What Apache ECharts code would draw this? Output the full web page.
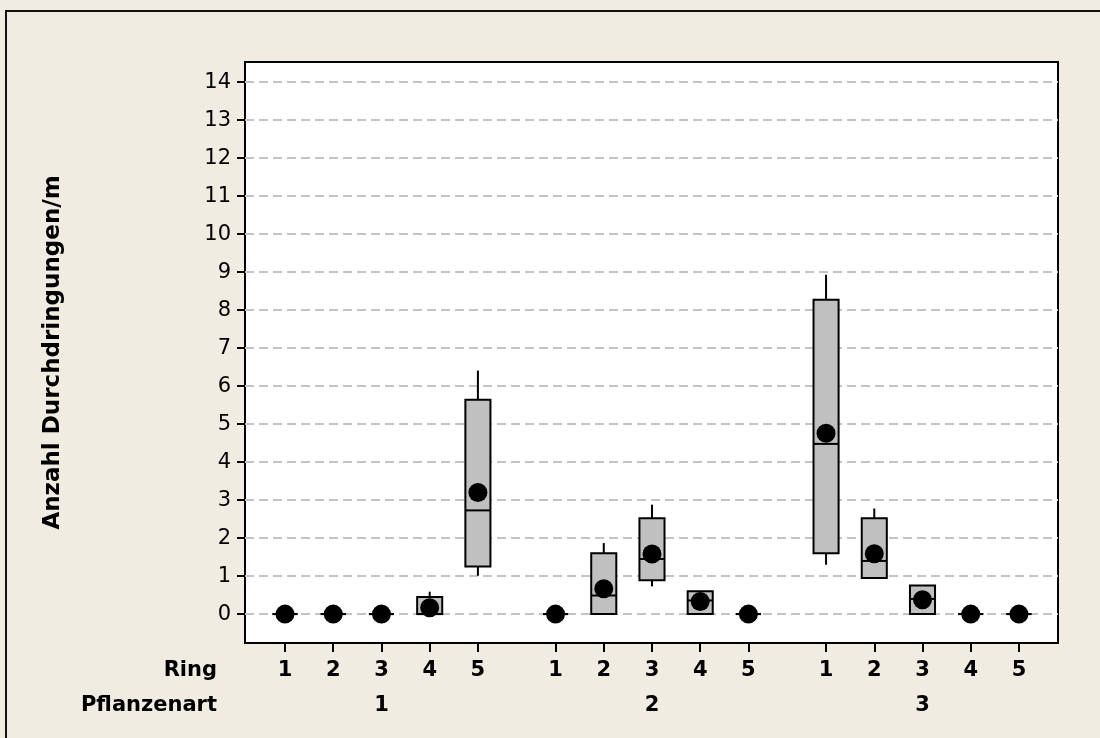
<!DOCTYPE html>
<html>
<head>
<meta charset="utf-8">
<title>Anzahl Durchdringungen/m</title>
<script src="https://cdn.jsdelivr.net/npm/echarts@6/dist/echarts.min.js"></script>
<style>
  html, body { margin: 0; padding: 0; background: #F0ECE2; }
  #chart { width: 1100px; height: 738px; }
</style>
</head>
<body>
<div id="chart"></div>
<script>
// Groups (Pflanzenart) and rings inside each group
const plantTypes = ['1', '2', '3'];
const ringLabels = ['1', '2', '3', '4', '5'];

// Box statistics, ordered Pflanzenart 1 (Ring 1..5), 2 (Ring 1..5), 3 (Ring 1..5)
const whiskerLow  = [0, 0, 0, 0,    1.01, 0, 0,    0.73, 0,    0, 1.30, 0.93, 0,    0, 0];
const quartile1   = [0, 0, 0, 0,    1.25, 0, 0,    0.89, 0,    0, 1.60, 0.95, 0,    0, 0];
const medians     = [0, 0, 0, 0,    2.73, 0, 0.49, 1.45, 0.36, 0, 4.48, 1.40, 0.40, 0, 0];
const quartile3   = [0, 0, 0, 0.45, 5.64, 0, 1.60, 2.52, 0.60, 0, 8.27, 2.52, 0.75, 0, 0];
const whiskerHigh = [0, 0, 0, 0.59, 6.41, 0, 1.87, 2.88, 0.60, 0, 8.93, 2.78, 0.75, 0, 0];
const means       = [0, 0, 0, 0.17, 3.20, 0, 0.67, 1.58, 0.33, 0, 4.76, 1.59, 0.38, 0, 0];

const yTicks = [0, 1, 2, 3, 4, 5, 6, 7, 8, 9, 10, 11, 12, 13, 14];

// Horizontal layout: rings are one unit apart, groups separated by an extra gap
const GROUP_STRIDE = ringLabels.length + 0.61;
const BOX_WIDTH = 0.52;

const positions = [];
const posLabel = {};
plantTypes.forEach((p, g) => {
  ringLabels.forEach((r, i) => {
    const x = +(g * GROUP_STRIDE + i + 1).toFixed(4);
    positions.push(x);
    posLabel[x] = r;
  });
});
const groupCenters = plantTypes.map((p, g) => +(g * GROUP_STRIDE + 3).toFixed(4));
const groupLabel = {};
groupCenters.forEach((x, g) => { groupLabel[x] = plantTypes[g]; });

const boxData = positions.map((x, i) =>
  [x, whiskerLow[i], quartile1[i], medians[i], quartile3[i], whiskerHigh[i]]);
const meanData = positions.map((x, i) => [x, means[i]]);

const FONT = 'DejaVu Sans';
const chart = echarts.init(document.getElementById('chart'));

function renderBox(params, api) {
  const x = api.value(0);
  const lo = api.coord([x, api.value(1)]);
  const q1 = api.coord([x, api.value(2)]);
  const md = api.coord([x, api.value(3)]);
  const q3 = api.coord([x, api.value(4)]);
  const hi = api.coord([x, api.value(5)]);
  const w = api.size([BOX_WIDTH, 0])[0];
  const left = q1[0] - w / 2;
  const line = { stroke: '#000', lineWidth: 2 };
  const children = [];
  if (hi[1] < q3[1]) {
    children.push({ type: 'line', shape: { x1: hi[0], y1: hi[1], x2: q3[0], y2: q3[1] }, style: line });
  }
  if (lo[1] > q1[1]) {
    children.push({ type: 'line', shape: { x1: lo[0], y1: lo[1], x2: q1[0], y2: q1[1] }, style: line });
  }
  children.push({
    type: 'rect',
    shape: { x: left, y: q3[1], width: w, height: q1[1] - q3[1] },
    style: { fill: '#C0C0C0', stroke: '#000', lineWidth: 2 }
  });
  children.push({ type: 'line', shape: { x1: left, y1: md[1], x2: left + w, y2: md[1] }, style: line });
  return { type: 'group', children: children };
}

const option = {
  backgroundColor: '#F0ECE2',
  animation: false,
  textStyle: { fontFamily: FONT },
  grid: {
    left: 245, right: 42, top: 62, bottom: 95,
    show: true, backgroundColor: '#FFFFFF', borderColor: '#000', borderWidth: 2
  },
  xAxis: [
    {
      type: 'value',
      position: 'bottom',
      min: 0.17, max: 17.03,
      axisLine: { show: false, onZero: false },
      axisTick: { show: true, inside: false, length: 9, lineStyle: { color: '#000', width: 2 }, customValues: positions },
      axisLabel: {
        customValues: positions, margin: 17,
        color: '#000', fontFamily: FONT, fontWeight: 'bold', fontSize: 21,
        formatter: v => posLabel[+(+v).toFixed(4)] || ''
      },
      splitLine: { show: false }
    },
    {
      type: 'value',
      position: 'bottom',
      offset: 35,
      min: 0.17, max: 17.03,
      axisLine: { show: false, onZero: false },
      axisTick: { show: false, customValues: groupCenters },
      axisLabel: {
        customValues: groupCenters, margin: 17,
        color: '#000', fontFamily: FONT, fontWeight: 'bold', fontSize: 21,
        formatter: v => groupLabel[+(+v).toFixed(4)] || ''
      },
      splitLine: { show: false }
    }
  ],
  yAxis: {
    type: 'value',
    min: -0.76, max: 14.53,
    name: 'Anzahl Durchdringungen/m',
    nameLocation: 'middle',
    nameGap: 180,
    nameTextStyle: { color: '#000', fontFamily: FONT, fontWeight: 'bold', fontSize: 23 },
    axisLine: { show: false, onZero: false },
    axisTick: { show: true, inside: false, length: 8, lineStyle: { color: '#000', width: 2 }, customValues: yTicks },
    axisLabel: { customValues: yTicks, margin: 14, color: '#000', fontFamily: FONT, fontSize: 21 },
    splitLine: { show: true, lineStyle: { color: '#C4C4C4', width: 2, type: [9, 5] } }
  },
  graphic: [
    {
      type: 'rect', z: 100, silent: true,
      shape: { x: 6, y: 11, width: 1200, height: 800 },
      style: { fill: 'none', stroke: '#111', lineWidth: 2 }
    },
    {
      type: 'text', right: 883, top: 660, z: 100,
      style: { text: 'Ring', font: 'bold 21px "DejaVu Sans"', fill: '#000' }
    },
    {
      type: 'text', right: 883, top: 695, z: 100,
      style: { text: 'Pflanzenart', font: 'bold 21px "DejaVu Sans"', fill: '#000' }
    }
  ],
  series: [
    {
      type: 'custom',
      xAxisIndex: 0,
      renderItem: renderBox,
      encode: { x: 0, y: [1, 2, 3, 4, 5] },
      data: boxData,
      z: 3
    },
    {
      type: 'scatter',
      xAxisIndex: 0,
      symbol: 'circle',
      symbolSize: 19,
      itemStyle: { color: '#000', opacity: 1 },
      data: meanData,
      z: 4
    }
  ]
};

chart.setOption(option);
</script>
</body>
</html>
